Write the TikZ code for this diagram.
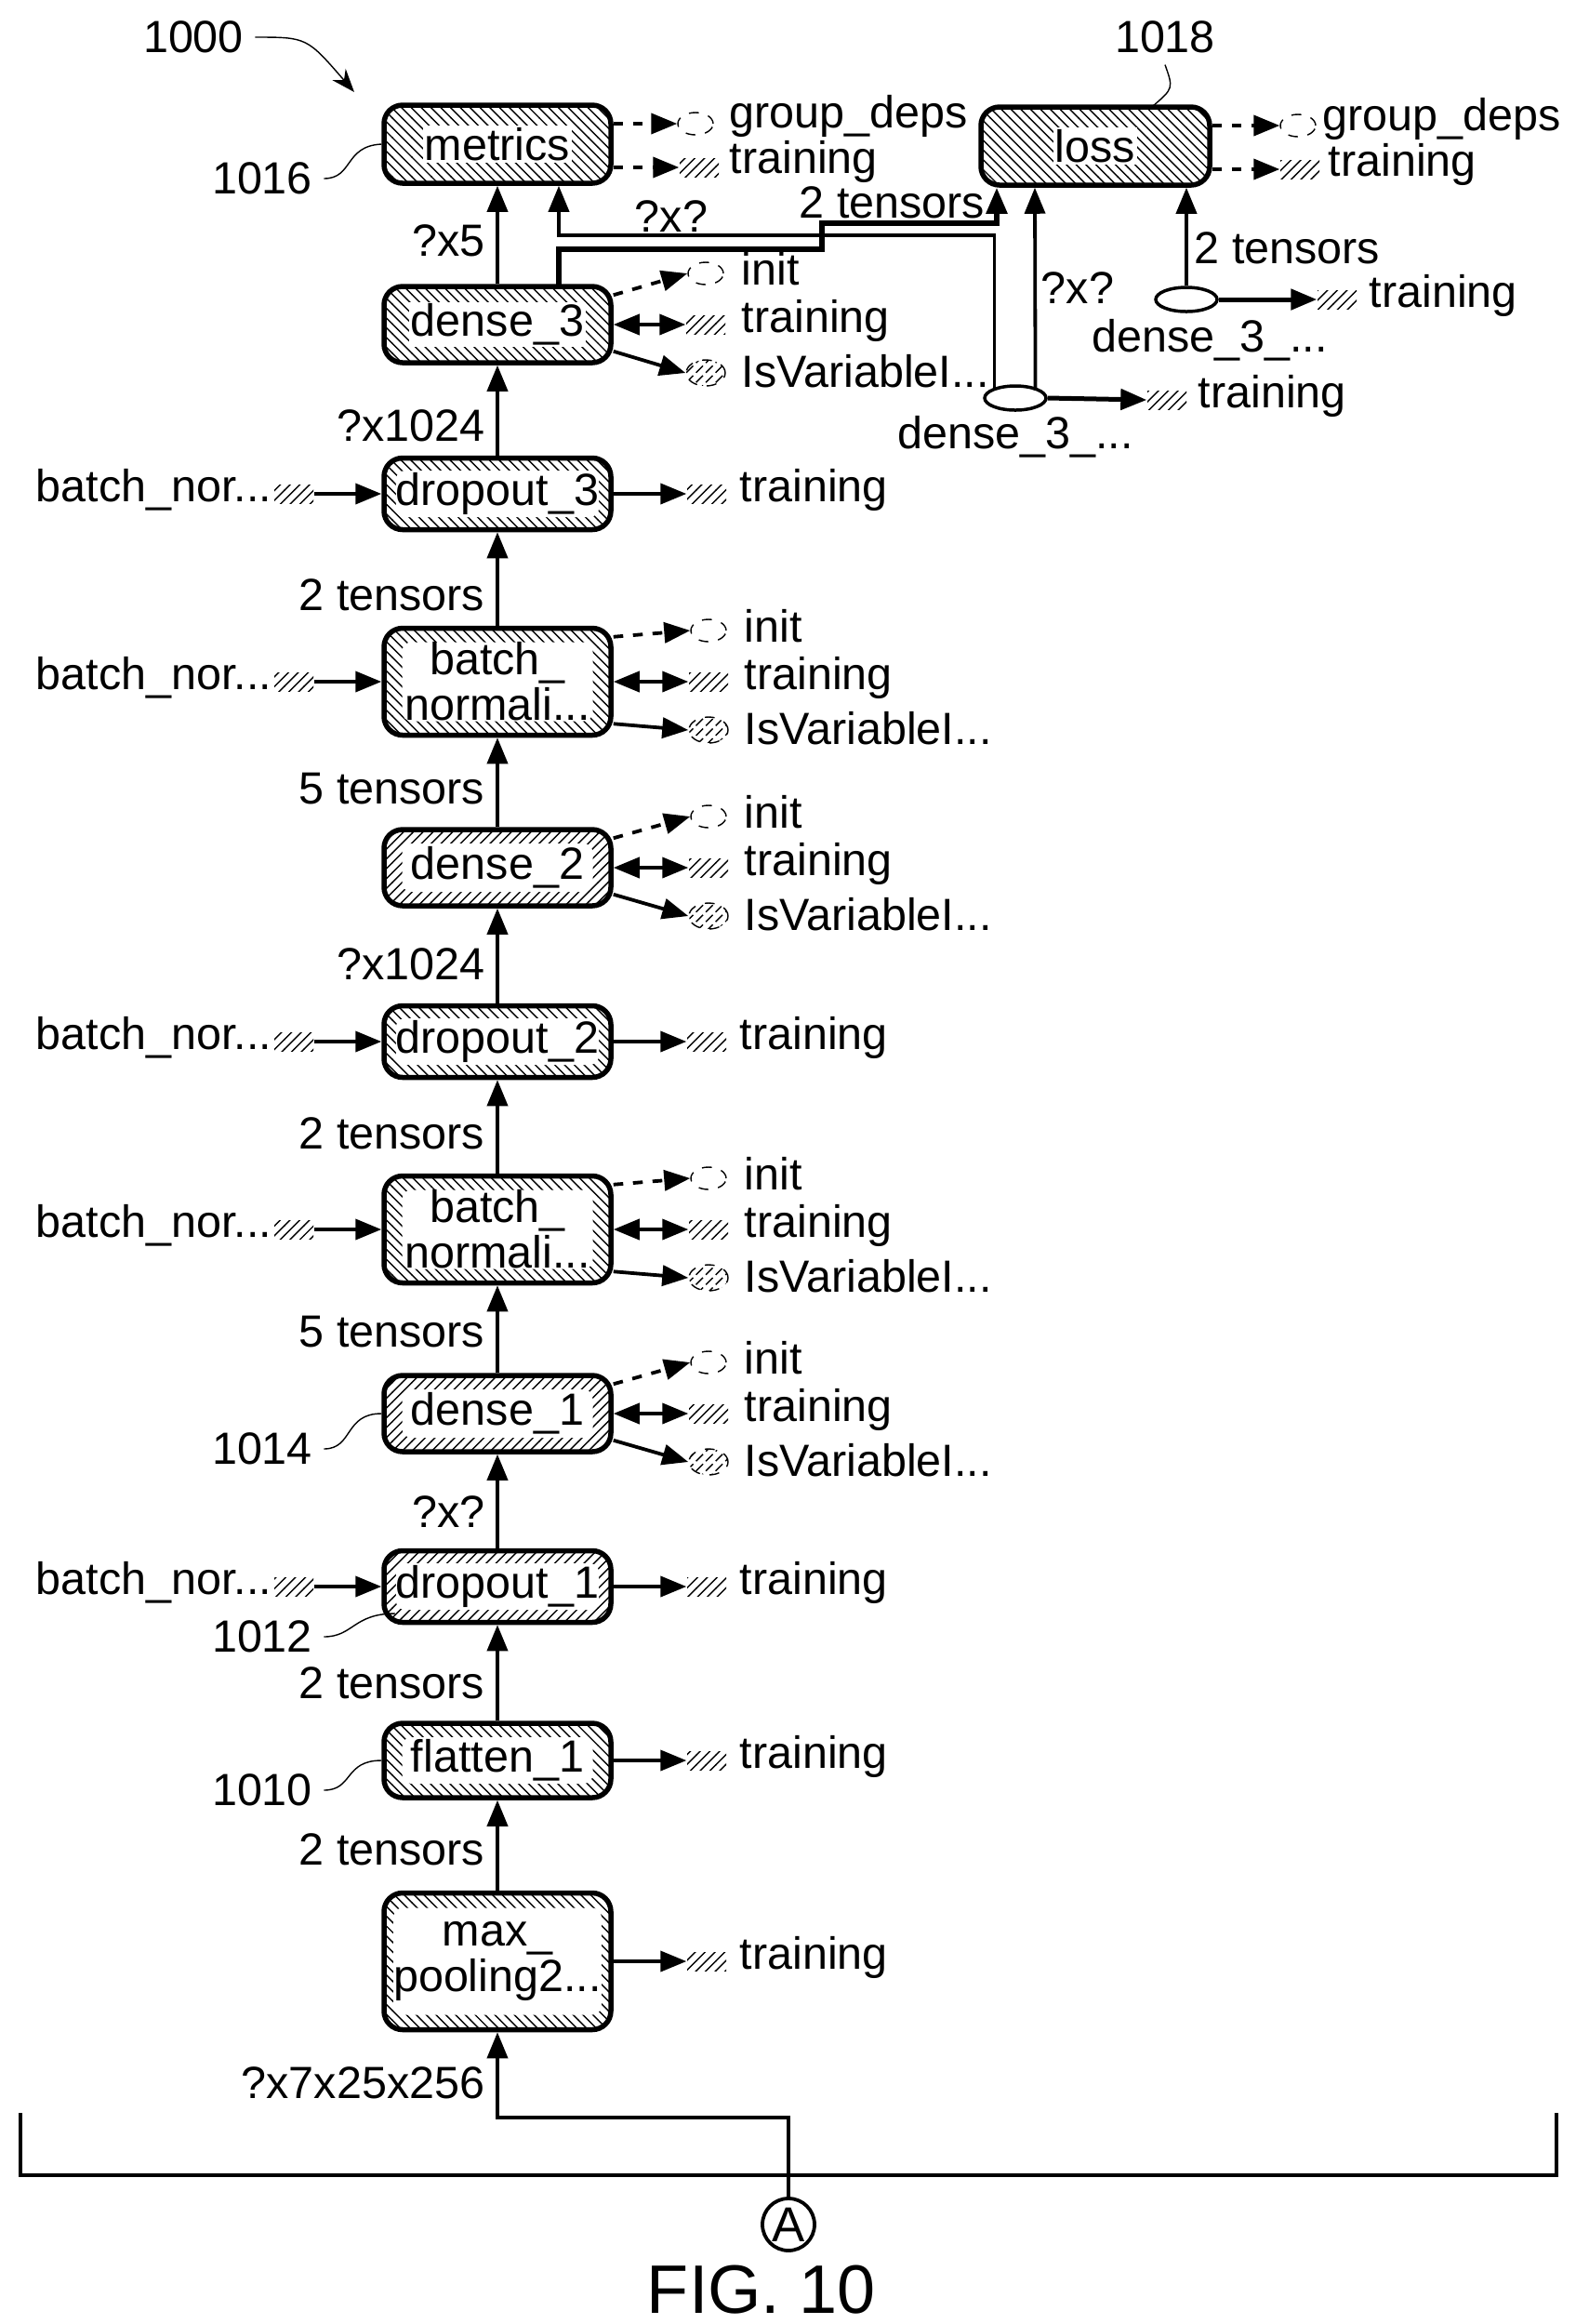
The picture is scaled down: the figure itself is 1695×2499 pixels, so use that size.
\documentclass[tikz,border=0pt]{standalone}
\usepackage{fontspec}
\setmainfont{Liberation Sans}
\usetikzlibrary{shapes.geometric,patterns,arrows.meta}
\begin{document}
\begin{tikzpicture}[x=0.1mm,y=-0.1mm,
  every node/.style={font=\fontsize{13.8}{14}\selectfont},
  blk/.style={draw,line width=0.55mm,rounded corners=2mm,minimum width=24.4mm,inner sep=0},
  inn/.style={fill=white,inner sep=0,rounded corners=1mm,align=center,minimum width=20.5mm},
  tight/.style={fill=white,inner sep=0.5pt},
  ln/.style={line width=0.38mm},
  ar/.style={ln,-{Triangle[length=2.8mm,width=2.2mm]}},
  dar/.style={ln,{Triangle[length=2.8mm,width=2.2mm]}-{Triangle[length=2.8mm,width=2.2mm]}},
  das/.style={ar,dashed},
  tri/.style={pattern=north east lines,minimum width=4.2mm,minimum height=2mm,inner sep=0},
  ini/.style={ellipse,draw,dashed,thin,minimum width=3.8mm,minimum height=2.4mm,inner sep=0},
  isv/.style={ellipse,draw,dashed,thin,minimum width=4.2mm,minimum height=2.8mm,inner sep=0,pattern=north east lines},
  el/.style={ellipse,draw,line width=0.35mm,minimum width=6.6mm,minimum height=2.6mm,inner sep=0,fill=white},
  lab/.style={anchor=east,inner sep=0},
  txt/.style={anchor=west,inner sep=0},
  lead/.style={thin}]
\useasboundingbox (0,0) rectangle (1695,2499);
% ---- main boxes
\node[blk,minimum height=8.4mm,pattern=north west lines] (metrics) at (535,155) {};
\node[tight] at (metrics) {metrics};
\node[blk,minimum height=8.4mm,minimum width=24.6mm,pattern=north west lines] (loss) at (1178,157) {};
\node[tight] at (loss) {loss};
\node[blk,minimum height=8.2mm,pattern=north west lines] (d3) at (535,349) {};
\node[tight] at (d3) {dense\_3};
\node[blk,minimum height=7.7mm,pattern=north west lines] (do3) at (535,531) {};
\node[inn,minimum height=5mm] at (do3) {dropout\_3};
\node[blk,minimum height=11.5mm,pattern=north west lines] (bn1) at (535,733) {};
\node[inn,minimum height=8.5mm] at (bn1) {batch\_\\normali...};
\node[blk,minimum height=8.2mm,pattern=north east lines] (d2) at (535,933) {};
\node[inn,minimum height=5.2mm] at (d2) {dense\_2};
\node[blk,minimum height=7.7mm,pattern=north west lines] (do2) at (535,1120) {};
\node[inn,minimum height=5mm] at (do2) {dropout\_2};
\node[blk,minimum height=11.5mm,pattern=north west lines] (bn2) at (535,1322) {};
\node[inn,minimum height=8.5mm] at (bn2) {batch\_\\normali...};
\node[blk,minimum height=8.2mm,pattern=north east lines] (d1) at (535,1520) {};
\node[inn,minimum height=5.2mm] at (d1) {dense\_1};
\node[blk,minimum height=7.7mm,pattern=north east lines] (do1) at (535,1706) {};
\node[inn,minimum height=5mm] at (do1) {dropout\_1};
\node[blk,minimum height=8mm,pattern=north west lines] (fl) at (535,1893) {};
\node[inn,minimum height=5mm] at (fl) {flatten\_1};
\node[blk,minimum height=14.7mm,pattern=north west lines] (mp) at (535,2109) {};
\node[inn,minimum height=11.5mm] at (mp) {max\_\\pooling2...};
% ---- vertical edges
\draw[ar] (d3.north) -- (metrics.south);
\draw[ar] (do3) -- (d3);
\draw[ar] (bn1) -- (do3);
\draw[ar] (d2) -- (bn1);
\draw[ar] (do2) -- (d2);
\draw[ar] (bn2) -- (do2);
\draw[ar] (d1) -- (bn2);
\draw[ar] (do1) -- (d1);
\draw[ar] (fl) -- (do1);
\draw[ar] (mp) -- (fl);
\node[lab] at (522,259) {?x5};
\node[lab] at (522,458) {?x1024};
\node[lab] at (522,640) {2 tensors};
\node[lab] at (522,848) {5 tensors};
\node[lab] at (522,1037) {?x1024};
\node[lab] at (522,1219) {2 tensors};
\node[lab] at (522,1432) {5 tensors};
\node[lab] at (522,1626) {?x?};
\node[lab] at (522,1810) {2 tensors};
\node[lab] at (522,1989) {2 tensors};
\node[lab] at (522,2240) {?x7x25x256};
% ---- metrics / loss side items
\node[ini] (mg) at (748,133) {}; \node[txt] at (784,125) {group\_deps};
\node[tri] (mt) at (752,180) {}; \node[txt] at (784,174) {training};
\draw[das] (metrics.east |- mg) -- (mg.west);
\draw[das] (metrics.east |- mt) -- (mt.west);
\node[ini] (lg) at (1396,135) {}; \node[txt] at (1422,128) {group\_deps};
\node[tri] (lt) at (1398,182) {}; \node[txt] at (1428,177) {training};
\draw[das] (loss.east |- lg) -- (lg.west);
\draw[das] (loss.east |- lt) -- (lt.west);
% ---- dense / batch side items
\foreach \n/\y/\xi in {d3/349/759,bn1/733/762,d2/933/762,bn2/1322/762,d1/1520/762}{
  \node[ini] (\n i) at (\xi,\y-55) {};
  \node[tri] (\n t) at (\xi,\y) {};
  \node[isv] (\n v) at (\xi,\y+52) {};
  \node[txt] at (\xi+38,\y-60) {init};
  \node[txt] at (\xi+38,\y-4) {training};
  \node[txt] at (\xi+38,\y+50) {IsVariableI...};
  \draw[das] ([yshift=-1.2mm]\n.north east) -- (\n i.west);
  \draw[dar] (\n.east) -- (\n t.west);
  \draw[ar] ([yshift=1.5mm]\n.south east) -- (\n v.west);
}
% ---- dropout / flatten / max pooling training
\foreach \n/\y in {do3/531,do2/1120,do1/1706,fl/1893,mp/2109}{
  \node[tri] (\n t) at (760,\y) {};
  \node[txt] at (795,\y-4) {training};
  \draw[ar] (\n.east) -- (\n t.west);
}
% ---- left batch_nor... inputs
\foreach \n/\y in {do3/531,bn1/733,do2/1120,bn2/1322,do1/1706}{
  \node[tri] (\n l) at (316,\y) {};
  \node[lab] at (293,\y-4) {batch\_nor...};
  \draw[ar] (\n l.east) -- (\n.west);
}
% ---- dense_3 outputs to loss
\node[el] (e1) at (1092,428) {};
\node[el] (e2) at (1276,322) {};
\node[anchor=north,inner sep=0] at (1092,447) {dense\_3\_...};
\node[anchor=north,inner sep=0] at (1301,343) {dense\_3\_...};
\node[tri] (e1t) at (1255,430) {}; \node[txt] at (1288,426) {training};
\node[tri] (e2t) at (1438,322) {}; \node[txt] at (1472,318) {training};
\draw[ar,line width=0.5mm] (e1.east) -- (e1t.west);
\draw[ar,line width=0.5mm] (e2.east) -- (e2t.west);
\draw[ar,line width=0.55mm] (601,308) -- (601,268) -- (884,268) -- (884,240) -- (1072,240) -- (loss.south -| 1072,0);
\draw[ar] (e1.north west) ++(2,2) |- (601,253) -- (metrics.south -| 601,0);
\draw[ar] (e1.north east) ++(-3,2) -- (loss.south -| 1113,0);
\draw[ar] (e2.north) -- (loss.south -| e2.north);
\node[lab] at (1060,218) {2 tensors};
\node at (722,233) {?x?};
\node at (1159,310) {?x?};
\node[txt] at (1284,267) {2 tensors};
% ---- reference numerals
\node (n1000) at (208,40) {1000};
\draw[lead,-{Stealth[length=2.5mm]}] (n1000.east) .. controls (330,40) .. (381,99);
\node (n1018) at (1253,40) {1018};
\draw[lead] (n1018.south) .. controls (1262,95) .. (1240,114);
\node (n1016) at (282,192) {1016};
\draw[lead] (n1016.east) .. controls (380,192) and (370,157) .. (metrics.west);
\node (n1014) at (282,1558) {1014};
\draw[lead] (n1014.east) .. controls (380,1558) and (370,1520) .. (d1.west);
\node (n1012) at (282,1760) {1012};
\draw[lead] (n1012.east) .. controls (380,1760) and (380,1735) .. (425,1735);
\node (n1010) at (282,1925) {1010};
\draw[lead] (n1010.east) .. controls (380,1925) and (370,1893) .. (fl.west);
% ---- bottom bracket
\coordinate (bc) at (848,2339);
\draw[ln] (22,2272) -- (22,2339) -- (1674,2339) -- (1674,2272);
\draw[ar] (bc) -- (848,2277) -- (535,2277) -- (mp.south);
\node[circle,draw,ln,minimum size=5.6mm,inner sep=0,font=\fontsize{15}{16}\selectfont] (A) at (848,2392) {A};
\draw[ln] (bc) -- (A.north);
\node[font=\fontsize{21}{22}\selectfont] at (819,2462) {FIG. 10};
\end{tikzpicture}
\end{document}
